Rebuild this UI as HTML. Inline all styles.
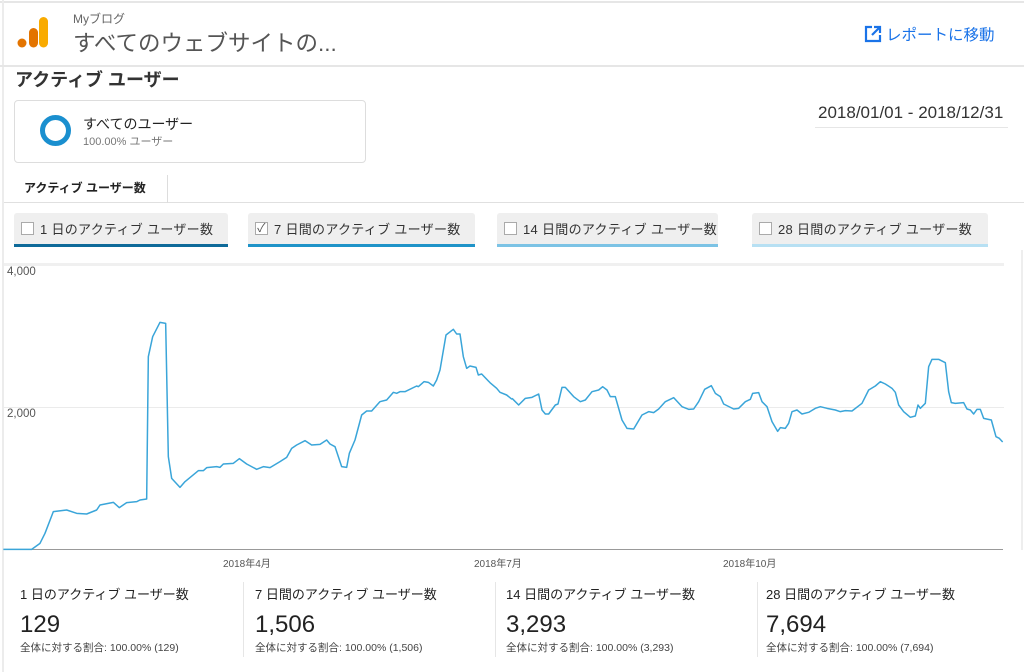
<!DOCTYPE html>
<html><head><meta charset="utf-8"><style>
*{margin:0;padding:0;box-sizing:border-box}
body{width:1024px;height:672px;background:#fff;position:relative;overflow:hidden;font-family:"Liberation Sans","Noto Sans CJK JP",sans-serif;color:#333}
.a{position:absolute;white-space:nowrap}
.btn{position:absolute;top:213px;height:34px;background:#efefef;border-radius:3px 3px 0 0;font-size:13px;color:#333;padding:6px 0 0 26px;letter-spacing:.3px;white-space:nowrap;overflow:hidden}
.cb{position:absolute;left:7px;top:9px;width:13px;height:13px;border:1px solid #aaa;background:#fff}
.ml{font-size:13px;color:#222;top:584px}
.mv{font-size:24px;color:#222;top:611px}
.ms{font-size:10.5px;color:#444;top:640px}
</style></head><body>
<div class="a" style="left:0;top:1px;width:1024px;height:2px;background:#e6e6e6"></div>
<div class="a" style="left:2px;top:0;width:2px;height:672px;background:#ececec"></div>
<div class="a" style="left:0;top:65px;width:1024px;height:2px;background:#e6e6e6"></div>
<svg class="a" style="left:16px;top:16px" width="32" height="34"><circle cx="6" cy="27" r="4.5" fill="#e37400"/><rect x="13" y="12" width="9" height="19.5" rx="4.5" fill="#e37400"/><rect x="23" y="1" width="9" height="30.5" rx="4.5" fill="#f9ab00"/></svg>
<div class="a" style="left:73px;top:10px;font-size:12px;color:#666">Myブログ</div>
<div class="a" style="left:73px;top:26px;font-size:22.5px;color:#555">すべてのウェブサイトの...</div>
<svg class="a" style="left:863px;top:24px" width="20" height="20"><path d="M9 3H3v14h14v-6" fill="none" stroke="#1a73e8" stroke-width="2.2"/><path d="M11 3h6v6M17 3l-8 8" fill="none" stroke="#1a73e8" stroke-width="2.2"/></svg>
<div class="a" style="left:886px;top:23px;font-size:15.5px;color:#1a73e8">レポートに移動</div>
<div class="a" style="left:15px;top:66px;font-size:18px;font-weight:bold;color:#333">アクティブ ユーザー</div>
<div class="a" style="left:14px;top:100px;width:352px;height:63px;border:1px solid #ddd;border-radius:4px"></div>
<div class="a" style="left:40px;top:115px;width:31px;height:31px;border:5px solid #1a8fcf;border-radius:50%"></div>
<div class="a" style="left:83px;top:114px;font-size:14px;color:#222">すべてのユーザー</div>
<div class="a" style="left:83px;top:133px;font-size:11px;color:#777">100.00% ユーザー</div>
<div class="a" style="left:818px;top:103px;font-size:17px;color:#333">2018/01/01 - 2018/12/31</div>
<div class="a" style="left:815px;top:127px;width:193px;height:1px;background:#e6e6e6"></div>
<div class="a" style="left:4px;top:202px;width:1020px;height:1px;background:#e0e0e0"></div>
<div class="a" style="left:167px;top:175px;width:1px;height:28px;background:#ddd"></div>
<div class="a" style="left:24px;top:179px;font-size:12px;font-weight:bold;color:#222">アクティブ ユーザー数</div>
<div class="btn" style="left:14px;width:214px;border-bottom:3px solid #0e6a99"><div class="cb"></div>1 日のアクティブ ユーザー数</div>
<div class="btn" style="left:248px;width:227px;border-bottom:3px solid #1f93c8"><div class="cb" style="color:#555;font-size:12px;line-height:11px;text-align:center">✓</div>7 日間のアクティブ ユーザー数</div>
<div class="btn" style="left:497px;width:221px;border-bottom:3px solid #7cc3e5"><div class="cb"></div>14 日間のアクティブ ユーザー数</div>
<div class="btn" style="left:752px;width:236px;border-bottom:3px solid #b7e0f3"><div class="cb"></div>28 日間のアクティブ ユーザー数</div>
<div class="a" style="left:4px;top:263px;width:1000px;height:3px;background:#f0f0f0"></div>
<div class="a" style="left:4px;top:407px;width:1000px;height:1px;background:#ebebeb"></div>
<div class="a" style="left:4px;top:549px;width:999px;height:1px;background:#999"></div>
<div class="a" style="left:1021px;top:250px;width:2px;height:300px;background:#eee"></div>
<div class="a" style="left:7px;top:266px;font-size:11.5px;color:#555">4,000</div>
<div class="a" style="left:7px;top:408px;font-size:11.5px;color:#555">2,000</div>
<div class="a" style="left:223px;top:555px;font-size:10px;color:#555">2018年4月</div>
<div class="a" style="left:474px;top:555px;font-size:10px;color:#555">2018年7月</div>
<div class="a" style="left:723px;top:555px;font-size:10px;color:#555">2018年10月</div>
<svg class="a" style="left:0;top:0" width="1024" height="672">
<g transform="translate(0,260) scale(0.33333)" fill="none" stroke="#3aa5d9" stroke-width="4.5" stroke-linejoin="round">
<polyline points="10,868 95,868 120,850 135,820 160,755 200,750 230,760 260,762 290,750 300,735 340,727 358,743 380,728 410,725 420,720 440,717 445,290 458,230 480,187 497,190 505,590 515,655 540,682 555,665 595,632 610,632 620,623 650,620 660,622 670,612 700,610 718,596 740,612 770,628 790,620 810,623 840,605 860,592 875,565 890,555 915,542 935,555 960,553 980,540 990,552 1005,560 1025,620 1040,622 1048,580 1065,540 1085,465 1100,453 1115,453 1140,425 1160,420 1180,397 1190,400 1200,395 1215,395 1250,378 1255,380 1272,365 1285,367 1300,378 1310,360 1320,330 1338,225 1360,208 1370,222 1380,222 1390,290 1400,325 1410,318 1428,322 1435,345 1445,342 1470,368 1490,385 1500,397 1520,405 1536,418"/>
</g>
<g transform="translate(512,260) scale(0.33333)" fill="none" stroke="#3aa5d9" stroke-width="4.5" stroke-linejoin="round">
<polyline points="0,415 20,435 40,415 60,412 80,402 90,450 100,462 110,462 130,435 138,432 150,382 160,382 185,410 205,425 220,420 240,395 260,390 272,380 285,390 295,410 310,410 330,480 345,505 365,507 390,465 410,455 425,458 440,447 460,425 485,413 510,440 530,448 545,447 560,425 578,388 598,377 610,400 625,410 635,432 665,447 680,445 700,425 715,418 722,400 740,398 750,425 765,440 780,485 797,514 805,503 820,505 830,490 840,455 855,450 870,462 890,457 910,445 925,440 945,445 970,450 985,455 1000,452 1020,453 1050,430 1070,390 1090,378 1105,365 1120,372 1140,385 1150,397 1160,435 1175,455 1195,472 1210,468 1218,435 1225,445 1240,430 1250,320 1260,298 1280,298 1300,308 1310,395 1318,428 1330,430 1355,428 1365,447 1375,450 1385,462 1395,448 1405,448 1415,475 1438,480 1452,530 1462,535 1472,546"/>
</g>
</svg>
<div class="a" style="left:243px;top:582px;width:1px;height:75px;background:#e6e6e6"></div>
<div class="a" style="left:495px;top:582px;width:1px;height:75px;background:#e6e6e6"></div>
<div class="a" style="left:757px;top:582px;width:1px;height:75px;background:#e6e6e6"></div>
<div class="a ml" style="left:20px">1 日のアクティブ ユーザー数</div>
<div class="a mv" style="left:20px">129</div>
<div class="a ms" style="left:20px">全体に対する割合: 100.00% (129)</div>
<div class="a ml" style="left:255px">7 日間のアクティブ ユーザー数</div>
<div class="a mv" style="left:255px">1,506</div>
<div class="a ms" style="left:255px">全体に対する割合: 100.00% (1,506)</div>
<div class="a ml" style="left:506px">14 日間のアクティブ ユーザー数</div>
<div class="a mv" style="left:506px">3,293</div>
<div class="a ms" style="left:506px">全体に対する割合: 100.00% (3,293)</div>
<div class="a ml" style="left:766px">28 日間のアクティブ ユーザー数</div>
<div class="a mv" style="left:766px">7,694</div>
<div class="a ms" style="left:766px">全体に対する割合: 100.00% (7,694)</div>
</body></html>
